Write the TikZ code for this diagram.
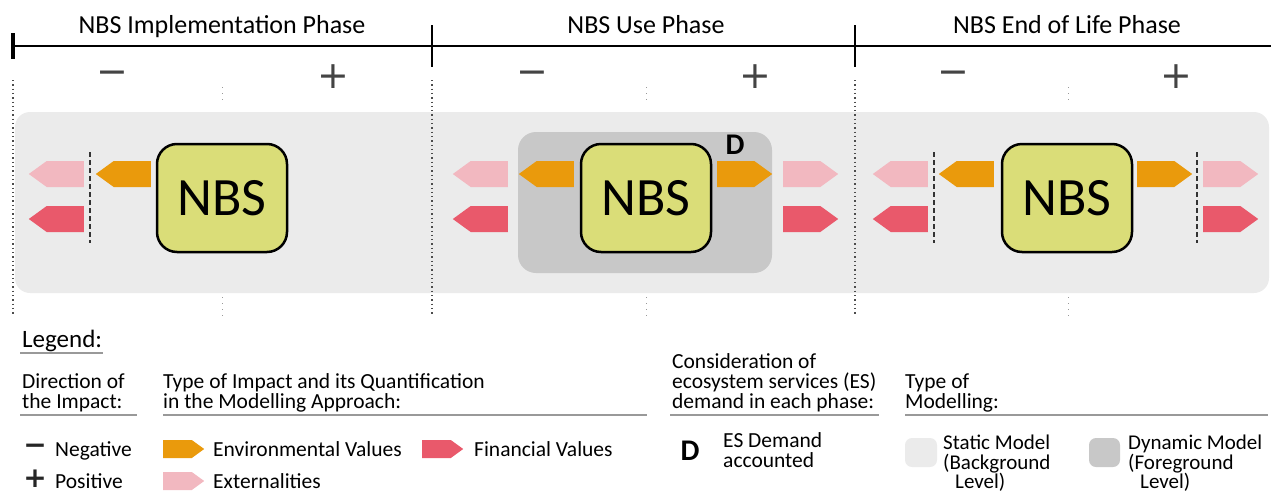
\documentclass[tikz,border=0pt]{standalone}
\usepackage{fontspec}
\setmainfont{Carlito}
\newfontfamily\symfont{DejaVu Sans}
\usetikzlibrary{shapes.symbols}

\definecolor{envorange}{HTML}{EA9A0C}
\definecolor{extpink}{HTML}{F2B8C0}
\definecolor{finred}{HTML}{E9596B}
\definecolor{nbsyellow}{HTML}{DADD78}
\definecolor{staticgray}{HTML}{EBEBEB}
\definecolor{dynamicgray}{HTML}{C8C8C8}
\definecolor{signgray}{HTML}{444444}

\tikzset{
    phasetitle/.style = {font = \fontsize{26}{30}\selectfont, anchor = base},
    bigsign/.style = {font = \symfont\fontsize{38}{40}\selectfont, text = signgray, inner sep = 0pt},
    legsign/.style = {font = \symfont\bfseries\fontsize{28}{30}\selectfont, text = black!85, inner sep = 0pt},
    nbsbox/.style = {draw, line width = 2.5pt, fill = nbsyellow, rounded corners = 20pt,
        minimum width = 130pt, minimum height = 108pt, font = \fontsize{54}{60}\selectfont},
    impact/.style = {signal, signal pointer angle = 72, inner sep = 0pt, draw = none,
        minimum width = 55pt, minimum height = 26pt},
    toleft/.style = {impact, signal to = west, anchor = east},
    toright/.style = {impact, signal to = east, anchor = west},
    legimpact/.style = {toright, minimum width = 41pt, minimum height = 18pt},
    demand/.style = {font = \bfseries\fontsize{30}{32}\selectfont, inner sep = 0pt},
    legtext/.style = {font = \fontsize{21.5}{20}\selectfont, inner sep = 0pt, align = left},
    modeltext/.style = {legtext, font = \fontsize{21}{19.5}\selectfont, anchor = south west},
    legline/.style = {draw = gray!80, line width = 1.5pt},
    phaseborder/.style = {dash pattern = on 1.3pt off 3pt, line width = 1.3pt, draw = black!70},
    phasemid/.style = {dash pattern = on 1pt off 5pt, line width = 1pt, draw = black!40},
    cutline/.style = {dash pattern = on 5pt off 3pt, line width = 2.2pt, draw = black!80}
}

\begin{document}
\begin{tikzpicture}[x = 1pt, y = -1pt]
    \useasboundingbox (0,0) rectangle (1271,493);

    % static model background
    \fill[staticgray, rounded corners = 15pt] (15,112) rectangle (1269,293);

    % time line
    \draw[line width = 2pt] (13,46) -- (1271,46);
    \draw[line width = 4pt] (13,33) -- (13,59);
    \draw[line width = 2pt] (432,25) -- (432,67);
    \draw[line width = 2pt] (855,25) -- (855,67);

    \node[phasetitle] (implementation) at (222,33) {NBS Implementation Phase};
    \node[phasetitle] (use) at (646,33) {NBS Use Phase};
    \node[phasetitle] (endoflife) at (1067,33) {NBS End of Life Phase};

    \node[bigsign] (implminus) at (112,78) {−};
    \node[bigsign] (implplus) at (333,77) {+};
    \node[bigsign] (useminus) at (532,78) {−};
    \node[bigsign] (useplus) at (755,77) {+};
    \node[bigsign] (eolminus) at (953,78) {−};
    \node[bigsign] (eolplus) at (1176,77) {+};

    \draw[phaseborder] (13,80) -- (13,316);
    \draw[phaseborder] (432,80) -- (432,316);
    \draw[phaseborder] (855,80) -- (855,316);
    \draw[phasemid] (222,87) -- (222,104);
    \draw[phasemid] (646,87) -- (646,104);
    \draw[phasemid] (1068,87) -- (1068,104);
    \draw[phasemid] (222,297) -- (222,316);
    \draw[phasemid] (646,297) -- (646,316);
    \draw[phasemid] (1068,297) -- (1068,316);

    % implementation phase
    \node[nbsbox] (implnbs) at (222,198) {NBS};
    \node[toleft, fill = envorange] (implenv) at (151,174) {};
    \node[toleft, fill = extpink] (implext) at (84,174) {};
    \node[toleft, fill = finred] (implfin) at (84,219) {};
    \draw[cutline] (90,152) -- (90,243);

    % use phase
    \fill[dynamicgray, rounded corners = 18pt] (518,132) rectangle (772,273);
    \node[demand] (usedemand) at (735,145) {D};
    \node[nbsbox] (usenbs) at (646,198) {NBS};
    \node[toleft, fill = envorange] (useenvl) at (574,174) {};
    \node[toright, fill = envorange] (useenvr) at (717,174) {};
    \node[toleft, fill = extpink] (useextl) at (508,174) {};
    \node[toleft, fill = finred] (usefinl) at (508,219) {};
    \node[toright, fill = extpink] (useextr) at (783,174) {};
    \node[toright, fill = finred] (usefinr) at (783,219) {};

    % end of life phase
    \node[nbsbox] (eolnbs) at (1067,198) {NBS};
    \node[toleft, fill = envorange] (eolenvl) at (994,174) {};
    \node[toright, fill = envorange] (eolenvr) at (1137,174) {};
    \node[toleft, fill = extpink] (eolextl) at (928,174) {};
    \node[toleft, fill = finred] (eolfinl) at (928,219) {};
    \node[toright, fill = extpink] (eolextr) at (1203,174) {};
    \node[toright, fill = finred] (eolfinr) at (1203,219) {};
    \draw[cutline] (934,152) -- (934,243);
    \draw[cutline] (1197,152) -- (1197,243);

    % legend
    \node[legtext, font = \fontsize{25}{26}\selectfont, anchor = base west] (legend) at (22,347) {Legend:};
    \draw[legline] (20,353) -- (103,353);

    \node[legtext, anchor = south west] (direction) at (22,412) {Direction of\\the Impact:};
    \draw[legline] (20,415) -- (137,415);
    \node[legtext, anchor = south west] (impacttype) at (163,412) {Type of Impact and its Quantification\\in the Modelling Approach:};
    \draw[legline] (163,415) -- (647,415);
    \node[legtext, anchor = south west] (esdemand) at (672,412) {Consideration of\\ecosystem services (ES)\\demand in each phase:};
    \draw[legline] (670,415) -- (879,415);
    \node[legtext, anchor = south west] (modelling) at (905,412) {Type of\\Modelling:};
    \draw[legline] (905,415) -- (1268,415);

    \node[legsign] (legminus) at (35,449) {−};
    \node[legtext, anchor = base west] (negative) at (55,456) {Negative};
    \node[legsign] (legplus) at (35,479) {+};
    \node[legtext, anchor = base west] (positive) at (55,488) {Positive};

    \node[legimpact, fill = envorange] (legenv) at (163,449) {};
    \node[legtext, anchor = base west] (envvalues) at (213,456) {Environmental Values};
    \node[legimpact, fill = extpink] (legext) at (163,481) {};
    \node[legtext, anchor = base west] (externalities) at (213,488) {Externalities};
    \node[legimpact, fill = finred] (legfin) at (422,449) {};
    \node[legtext, anchor = base west] (finvalues) at (474,456) {Financial Values};

    \node[demand, anchor = base] (legdemand) at (690,460) {D};
    \node[legtext, anchor = south west] (demandtext) at (723,468) {ES Demand\\accounted};

    \fill[staticgray, rounded corners = 7pt] (905,438) rectangle (937,467);
    \node[modeltext] (statictext) at (943,492) {Static Model\\(Background\\\hspace*{12pt}Level)};
    \fill[dynamicgray, rounded corners = 7pt] (1089,438) rectangle (1120,467);
    \node[modeltext] (dynamictext) at (1128,492) {Dynamic Model\\(Foreground\\\hspace*{12pt}Level)};
\end{tikzpicture}
\end{document}
